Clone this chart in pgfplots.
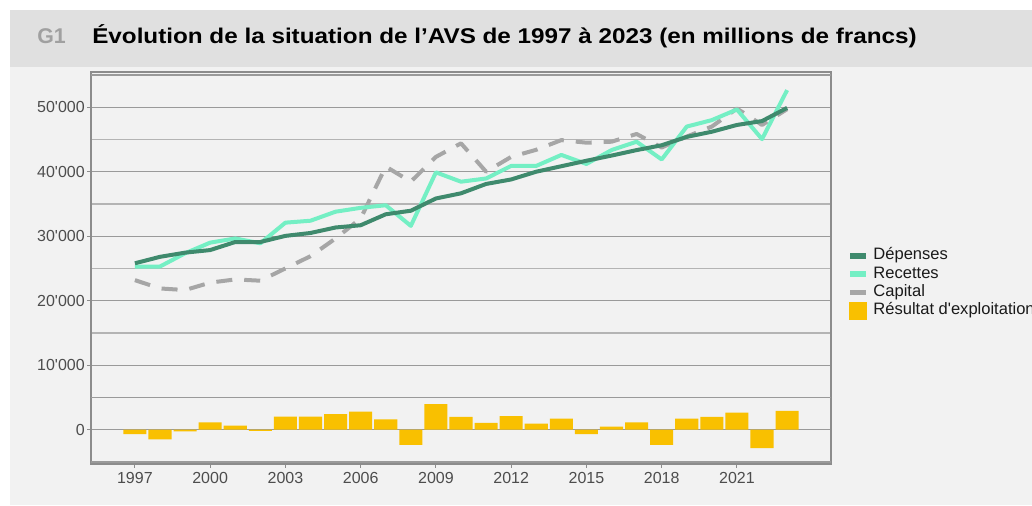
\documentclass[border=0pt]{standalone}
\usepackage{fontspec}
\setmainfont{Liberation Sans}
\usepackage{graphicx}
\usepackage{pgfplots}
\pgfplotsset{compat=1.18}
\usepackage{pgfplotstable}
\definecolor{depcol}{HTML}{3F8A6D}
\definecolor{reccol}{HTML}{74EFC4}
\definecolor{capcol}{HTML}{A6A6A6}
\definecolor{rescol}{HTML}{F9C000}
\definecolor{panel}{HTML}{F2F2F2}
\definecolor{band}{HTML}{E0E0E0}
\definecolor{axisgray}{HTML}{8C8C8C}
\definecolor{gridmaj}{HTML}{9A9A9A}
\definecolor{gridmin}{HTML}{B4B4B4}
\definecolor{gridlight}{HTML}{DEDEDE}
\definecolor{ticktext}{HTML}{4D4D4D}
\definecolor{legtext}{HTML}{1A1A1A}
\definecolor{gone}{HTML}{A0A0A0}

\pgfplotstableread{
year dep rec cap res
1997 25800 25270 23190 -700
1998 26800 25300 21900 -1500
1999 27450 27350 21650 -250
2000 27850 29000 22800 1150
2001 29100 29650 23300 620
2002 29100 28900 23100 -200
2003 30050 32100 25000 2020
2004 30500 32400 26900 2020
2005 31350 33800 29650 2430
2006 31700 34400 32750 2790
2007 33400 34800 40800 1600
2008 33950 31600 38450 -2370
2009 35850 39900 42300 3980
2010 36650 38450 44400 1970
2011 38100 38950 40000 1040
2012 38800 40900 42300 2120
2013 40000 40900 43400 930
2014 40850 42600 44900 1710
2015 41700 41200 44500 -670
2016 42500 43350 44650 470
2017 43350 44650 45850 1140
2018 44100 41900 43750 -2370
2019 45400 47000 45450 1710
2020 46200 48000 47000 1970
2021 47250 49650 49800 2640
2022 47850 45050 47250 -2840
2023 49900 52650 49700 2900
}\data

\begin{document}
\begin{tikzpicture}
\useasboundingbox (0,0) rectangle (774pt,379.5pt);
\fill[white] (0,0) rectangle (774pt,379.5pt);
\fill[panel] (7.5pt,0.75pt) rectangle (774pt,329.25pt);
\fill[band] (7.5pt,329.25pt) rectangle (774pt,372pt);
\node[anchor=base west, font=\bfseries\fontsize{16}{18}\selectfont, text=gone, inner sep=0pt] at (27.75pt,346.5pt) {G1};
\node[anchor=base west, font=\bfseries\fontsize{16}{18}\selectfont, text=black, inner sep=0pt] at (69pt,346.5pt) {\scalebox{1.137}[1]{Évolution de la situation de l’AVS de 1997 à 2023 (en millions de francs)}};
\begin{axis}[
  at={(68.25pt,31.5pt)}, anchor=south west,
  scale only axis, width=555pt, height=294pt,
  xmin=1995.25, xmax=2024.75, ymin=-5320, ymax=55460,
  axis line style={color=axisgray, line width=1.1pt},
  /pgf/number format/assume math mode=true,
  scaled y ticks=false, scaled x ticks=false,
  xtick={1997,2000,...,2021},
  xticklabels={1997,2000,2003,2006,2009,2012,2015,2018,2021},
  ytick={0,10000,...,50000},
  yticklabels={0,10\textquotesingle000,20\textquotesingle000,30\textquotesingle000,40\textquotesingle000,50\textquotesingle000},
  minor ytick={15000,25000,35000,45000},
  extra y ticks={-5000,5000,55000},
  extra y tick labels={},
  extra y tick style={grid style={color=gridlight, line width=1pt}, major tick length=0pt},
  ymajorgrids, yminorgrids,
  major grid style={color=gridmaj, line width=1pt},
  minor grid style={color=gridmin, line width=1pt},
  minor tick length=0pt,
  tick align=outside, major tick length=3pt,
  tick style={color=axisgray, line width=0.8pt},
  xtick pos=bottom, ytick pos=left,
  tick label style={font=\fontsize{12}{14}\selectfont, text=ticktext},
  yticklabel style={inner sep=1.5pt},
  xticklabel style={inner sep=1.5pt, yshift=-1.2pt},
  legend style={at={(1,0.4656)}, anchor=west, xshift=13pt, yshift=-1.2pt, draw=none, fill=none, inner sep=0pt,
    font=\fontsize{12.4}{14}\selectfont, text=legtext, row sep=0pt, column sep=5pt,
    nodes={inner sep=0.5pt, text height=9.5pt, text depth=3.25pt}},
  legend cell align=left,
]
\addplot[ybar, bar width=0.92, fill=rescol, draw=none, forget plot] table[x=year,y=res]{\data};
\addplot[capcol, line width=3pt, dash pattern=on 12pt off 9pt, line join=round, forget plot] table[x=year,y=cap]{\data};
\addplot[reccol, line width=3pt, line join=round, forget plot] table[x=year,y=rec]{\data};
\addplot[depcol, line width=3pt, line join=round, forget plot] table[x=year,y=dep]{\data};
\addlegendimage{legend image code/.code={\fill[depcol] (1pt,-1.7pt) rectangle (12.25pt,1.7pt);}}
\addlegendentry{Dépenses}
\addlegendimage{legend image code/.code={\fill[reccol] (1pt,-1.7pt) rectangle (12.25pt,1.7pt);}}
\addlegendentry{Recettes}
\addlegendimage{legend image code/.code={\fill[capcol] (1pt,-1.7pt) rectangle (12.25pt,1.7pt);}}
\addlegendentry{Capital}
\addlegendimage{legend image code/.code={\fill[rescol] (0pt,-6.4pt) rectangle (12.75pt,6.4pt);}}
\addlegendentry{Résultat d\textquotesingle exploitation}
\end{axis}
\end{tikzpicture}
\end{document}
